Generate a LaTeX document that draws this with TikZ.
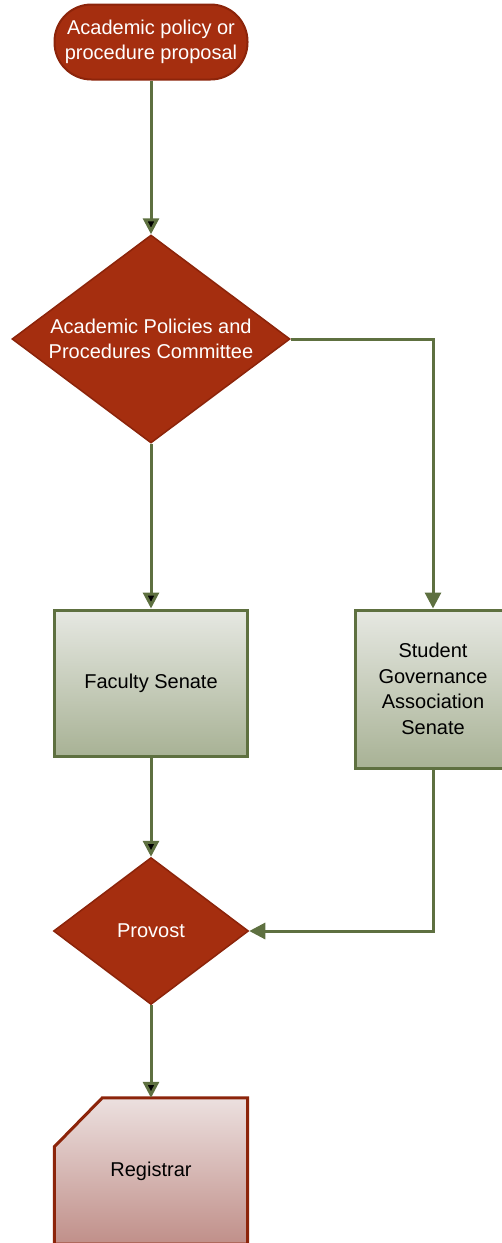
\documentclass[tikz,border=0pt]{standalone}
\usepackage{fontspec}
\setmainfont{Liberation Sans}
\usetikzlibrary{shapes.geometric, positioning, arrows.meta, backgrounds}

\definecolor{rust}{RGB}{165,46,15}
\definecolor{rustline}{RGB}{140,36,10}
\definecolor{moss}{RGB}{94,112,64}
\definecolor{sagetop}{RGB}{230,232,226}
\definecolor{sagebot}{RGB}{168,178,149}
\definecolor{rosetop}{RGB}{236,224,223}
\definecolor{rosebot}{RGB}{192,143,137}

\tikzset{
  terminal/.style={rectangle, rounded corners=37pt, fill=rust, draw=rustline, line width=2pt,
    minimum width=193pt, minimum height=75pt, text=white, align=center, inner sep=0pt},
  decision/.style={diamond, aspect=1.5, fill=rust, draw=rustline, line width=1.5pt,
    text=white, align=center, inner sep=0pt},
  process/.style={rectangle, draw=moss, line width=3pt, top color=sagetop, bottom color=sagebot,
    minimum width=193pt, minimum height=146pt, align=center, inner sep=0pt},
  office/.style={rectangle, minimum width=193pt, minimum height=146pt, align=center, inner sep=0pt},
  flow/.style={draw=moss, line width=3pt, -{Triangle[width=16pt,length=16pt]}}
}

\begin{document}
\begin{tikzpicture}
	[x=1pt, y=1pt, on grid, font=\fontsize{20}{25.5}\selectfont]
   \useasboundingbox (0,0) rectangle (502,-1243);
   \node[terminal] (proposal) at (151,-42) {Academic policy or\\procedure proposal};
   \node[decision, minimum width=278pt, minimum height=208pt] (apc) [below=297pt of proposal] {Academic Policies and\\Procedures Committee};
   \node[process] (faculty) [below=344pt of apc] {Faculty Senate};
   \node[process, minimum width=156pt, minimum height=158pt] (sga) [below right=6pt and 282pt of faculty] {Student\\Governance\\Association\\Senate};
   \node[decision, minimum width=195pt, minimum height=147pt] (provost) [below=248pt of faculty] {Provost};
   \node[office] (registrar) [below=240pt of provost] {Registrar};
   \begin{scope}[on background layer]
    \draw[draw=rustline, line width=3pt, top color=rosetop, bottom color=rosebot]
      ([yshift=-49pt]registrar.north west) -- ([xshift=48pt]registrar.north west)
      -- (registrar.north east) -- (registrar.south east) -- (registrar.south west) -- cycle;
   \end{scope}
    \path[flow]
    (proposal) edge (apc)
    (apc) edge (faculty)
    (faculty) edge (provost)
    (provost) edge (registrar);
    \draw[flow] (apc.east) -| (sga.north);
    \draw[flow] (sga.south) |- (provost.east);
\end{tikzpicture}
\end{document}
